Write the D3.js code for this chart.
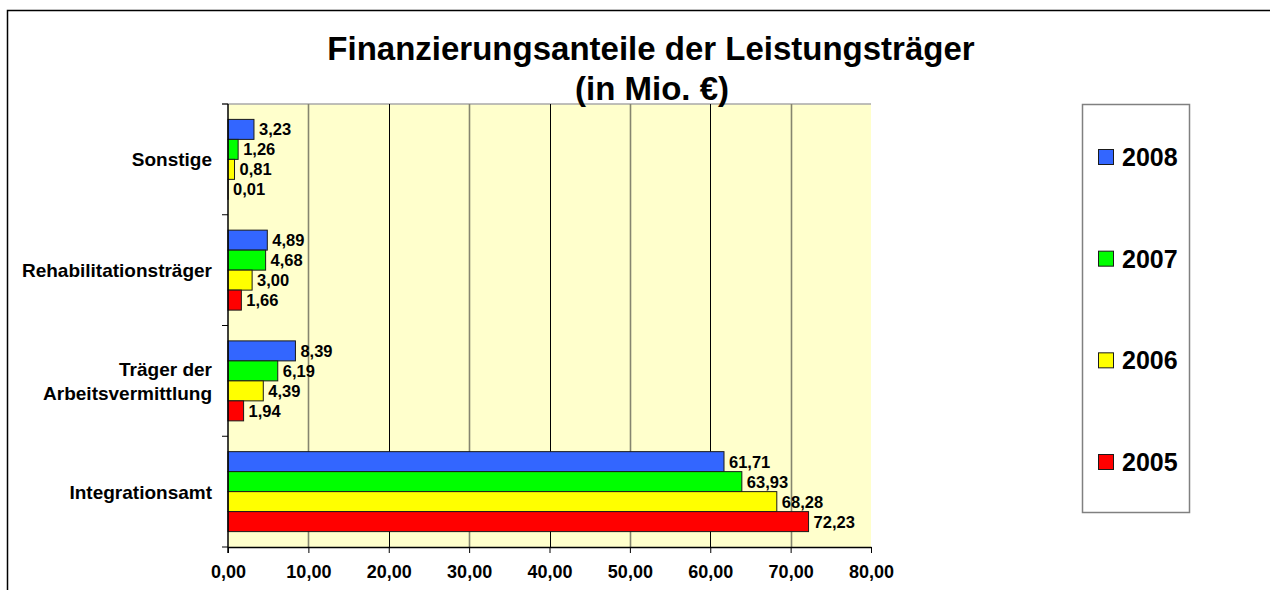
<!DOCTYPE html>
<html>
<head>
<meta charset="utf-8">
<script src="https://cdn.jsdelivr.net/npm/d3@7"></script>
<style>
  body { margin: 0; background: #fff; }
  svg { display: block; font-family: "Liberation Sans", Arial, sans-serif; font-weight: bold; }
</style>
</head>
<body>
<div class="chart"></div>
<script>
// data
const categories = ["Sonstige", "Rehabilitationsträger", "Träger der Arbeitsvermittlung", "Integrationsamt"];
const categoryLines = [["Sonstige"], ["Rehabilitationsträger"], ["Träger der", "Arbeitsvermittlung"], ["Integrationsamt"]];
const years = ["2008", "2007", "2006", "2005"];
const values2008 = [3.23, 4.89, 8.39, 61.71];
const values2007 = [1.26, 4.68, 6.19, 63.93];
const values2006 = [0.81, 3.00, 4.39, 68.28];
const values2005 = [0.01, 1.66, 1.94, 72.23];
const xTicks = [0, 10, 20, 30, 40, 50, 60, 70, 80];

const seriesValues = {"2008": values2008, "2007": values2007, "2006": values2006, "2005": values2005};
const colors = {"2008": "#3366FF", "2007": "#00FF00", "2006": "#FFFF00", "2005": "#FF0000"};

const width = 1270, height = 590;
const margin = ({top: 104, right: 399, bottom: 43, left: 228});

const locale = d3.formatLocale({decimal: ",", thousands: ".", grouping: [3], currency: ["", "€"]});
const fmt = locale.format(".2f");

const svg = d3.select(".chart").append("svg")
    .attr("width", width)
    .attr("height", height);

// outer frame (only top and left edges fall inside the window)
svg.append("path")
    .attr("d", `M7.5,${height} V10.5 H${width}`)
    .attr("fill", "none")
    .attr("stroke", "#000")
    .attr("stroke-width", 1.5);

const x = d3.scaleLinear()
    .domain([0, 80])
    .range([margin.left, width - margin.right]);

const y0 = d3.scaleBand()
    .domain(categories)
    .range([margin.top, height - margin.bottom]);

const y1 = d3.scaleBand()
    .domain(years)
    .range([0, y0.bandwidth()])
    .paddingOuter(0.77);

// plot background
svg.append("rect")
    .attr("x", x(0))
    .attr("y", margin.top)
    .attr("width", x(80) - x(0))
    .attr("height", height - margin.bottom - margin.top)
    .attr("fill", "#FFFFCC");

svg.append("line")
    .attr("x1", x(0) - 6).attr("x2", x(80))
    .attr("y1", margin.top).attr("y2", margin.top)
    .attr("stroke", "#a8a8a8")
    .attr("stroke-width", 1.5);

// gridlines
svg.append("g")
    .selectAll("line")
    .data(xTicks.slice(1, -1))
    .join("line")
    .attr("x1", d => Math.round(x(d)) + 0.5)
    .attr("x2", d => Math.round(x(d)) + 0.5)
    .attr("y1", margin.top)
    .attr("y2", height - margin.bottom)
    .attr("stroke", (d, i) => i % 2 === 0 ? "#85856f" : "#000")
    .attr("stroke-width", (d, i) => i % 2 === 0 ? 1.6 : 1);

// bars
const groups = svg.append("g")
    .selectAll("g")
    .data(categories)
    .join("g")
    .attr("transform", d => `translate(0,${y0(d)})`);

groups.selectAll("rect")
    .data((c, ci) => years.map(yr => ({year: yr, value: seriesValues[yr][ci]})))
    .join("rect")
    .attr("x", x(0))
    .attr("y", d => y1(d.year))
    .attr("width", d => x(d.value) - x(0))
    .attr("height", y1.bandwidth())
    .attr("fill", d => colors[d.year])
    .attr("stroke", "#1a1a1a")
    .attr("stroke-width", 1);

groups.selectAll("text")
    .data((c, ci) => years.map(yr => ({year: yr, value: seriesValues[yr][ci]})))
    .join("text")
    .attr("x", d => x(d.value) + 5)
    .attr("y", d => y1(d.year) + y1.bandwidth() / 2 + 6)
    .attr("font-size", 16.5)
    .attr("fill", "#000")
    .text(d => fmt(d.value));

// x axis
const xAxis = g => g
    .attr("transform", `translate(0,${height - margin.bottom})`)
    .call(d3.axisBottom(x).tickValues(xTicks).tickSize(6).tickSizeOuter(0).tickFormat(fmt))
    .call(g => g.select(".domain").attr("stroke", "#000").attr("stroke-width", 1.5))
    .call(g => g.selectAll(".tick line").attr("stroke", "#000"))
    .call(g => g.selectAll(".tick text")
        .attr("font-size", 18)
        .attr("font-family", "Liberation Sans, Arial, sans-serif")
        .attr("font-weight", "bold")
        .attr("fill", "#000")
        .attr("dy", "1.2em"));

svg.append("g").call(xAxis);

// y axis
const yTicksPos = categories.map(c => y0(c)).concat([height - margin.bottom]);
svg.append("line")
    .attr("x1", x(0)).attr("x2", x(0))
    .attr("y1", margin.top).attr("y2", height - margin.bottom + 6)
    .attr("stroke", "#000")
    .attr("stroke-width", 1.5);

svg.append("g")
    .selectAll("line")
    .data(yTicksPos)
    .join("line")
    .attr("x1", x(0) - 6).attr("x2", x(0))
    .attr("y1", d => d).attr("y2", d => d)
    .attr("stroke", "#000");

const catLabels = svg.append("g")
    .selectAll("text")
    .data(categories)
    .join("text")
    .attr("text-anchor", "end")
    .attr("font-size", 19)
    .attr("fill", "#000")
    .attr("transform", d => `translate(${x(0) - 16},${y0(d) + y0.bandwidth() / 2})`);

catLabels.selectAll("tspan")
    .data((d, i) => categoryLines[i].map((t, j, arr) => ({t, j, n: arr.length})))
    .join("tspan")
    .attr("x", 0)
    .attr("y", d => (d.j - (d.n - 1) / 2) * 24 + 7)
    .text(d => d.t);

// title
svg.append("text")
    .attr("x", 651)
    .attr("y", 60)
    .attr("text-anchor", "middle")
    .attr("font-size", 33)
    .text("Finanzierungsanteile der Leistungsträger");

svg.append("text")
    .attr("x", 652)
    .attr("y", 100)
    .attr("text-anchor", "middle")
    .attr("font-size", 33)
    .text("(in Mio. €)");

// legend
const legend = svg.append("g");
legend.append("rect")
    .attr("x", 1082.5)
    .attr("y", 104.5)
    .attr("width", 107)
    .attr("height", 408)
    .attr("fill", "#fff")
    .attr("stroke", "#808080")
    .attr("stroke-width", 1.5);

const legendY = d3.scalePoint()
    .domain(years)
    .range([157, 462]);

const items = legend.selectAll("g.item")
    .data(years)
    .join("g")
    .attr("class", "item")
    .attr("transform", d => `translate(1098,${legendY(d)})`);

items.append("rect")
    .attr("x", 0.5)
    .attr("y", -7.5)
    .attr("width", 15)
    .attr("height", 15)
    .attr("fill", d => colors[d])
    .attr("stroke", "#1a1a1a");

items.append("text")
    .attr("x", 24)
    .attr("y", 9)
    .attr("font-size", 25)
    .attr("fill", "#000")
    .text(d => d);
</script>
</body>
</html>
